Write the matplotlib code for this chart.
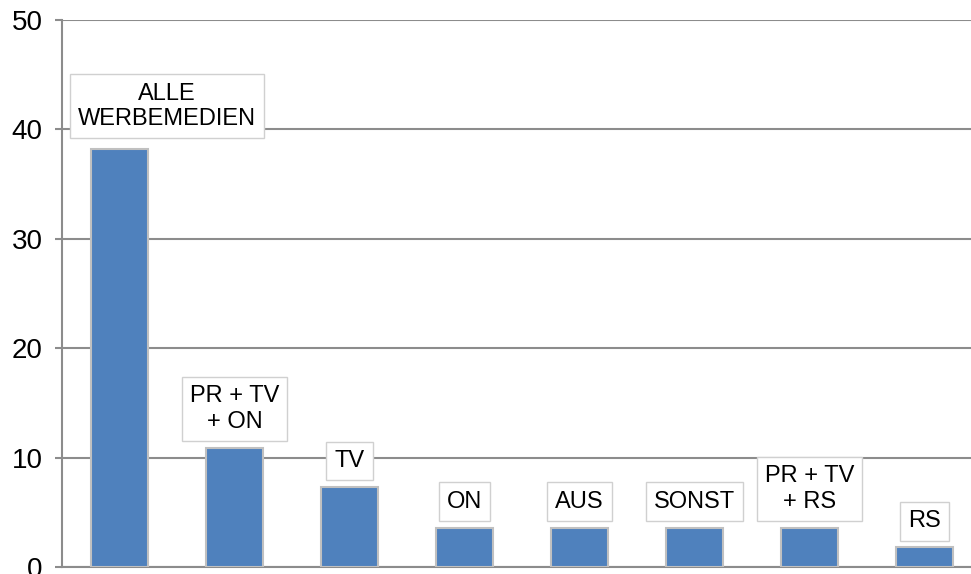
import matplotlib.pyplot as plt

plt.rcParams['font.family'] = ['Liberation Sans', 'DejaVu Sans']

# Chart data
labels = ["ALLE\nWERBEMEDIEN", "PR + TV\n+ ON", "TV", "ON", "AUS", "SONST", "PR + TV\n+ RS", "RS"]
values = [38.2, 10.9, 7.3, 3.6, 3.6, 3.6, 3.6, 1.8]
yticks = [0, 10, 20, 30, 40, 50]

fig = plt.figure(figsize=(9.71, 5.74), dpi=100)
ax = fig.add_axes([62 / 971, 7 / 574, 920 / 971, 547 / 574])

grid_col = "#8c8c8c"
x = range(len(values))
ax.bar(x, values, width=0.5, color="#4f81bd", edgecolor="#c0c0c0", linewidth=1.5, zorder=3)

box = dict(boxstyle="square,pad=0.35", fc="white", ec="#d0d0d0", lw=1)
# labels in boxes above each bar (first one is pushed inside the plot area like Excel does)
for i, (lab, v) in enumerate(zip(labels, values)):
    if i == 0:
        ax.annotate(lab, (-0.5, v), xytext=(105, 19), textcoords="offset pixels",
                    ha="center", va="bottom", fontsize=17, linespacing=1.2,
                    bbox=box, zorder=4)
    else:
        ax.annotate(lab, (i, v), xytext=(0, 15), textcoords="offset pixels",
                    ha="center", va="bottom", fontsize=17, linespacing=1.2,
                    bbox=box, zorder=4)

ax.set_xlim(-0.5, len(values) - 0.5)
ax.set_ylim(0, 50)
ax.set_yticks(yticks)
ax.set_xticks([])
ax.yaxis.grid(True, color=grid_col, linewidth=1.5, zorder=0)
ax.tick_params(axis="y", length=5, width=1.5, color=grid_col, labelsize=20, pad=9)

for side in ["top", "right"]:
    ax.spines[side].set_visible(False)
for side in ["left", "bottom"]:
    ax.spines[side].set_color(grid_col)
    ax.spines[side].set_linewidth(1.5)

fig.savefig("out.png", dpi=100)
